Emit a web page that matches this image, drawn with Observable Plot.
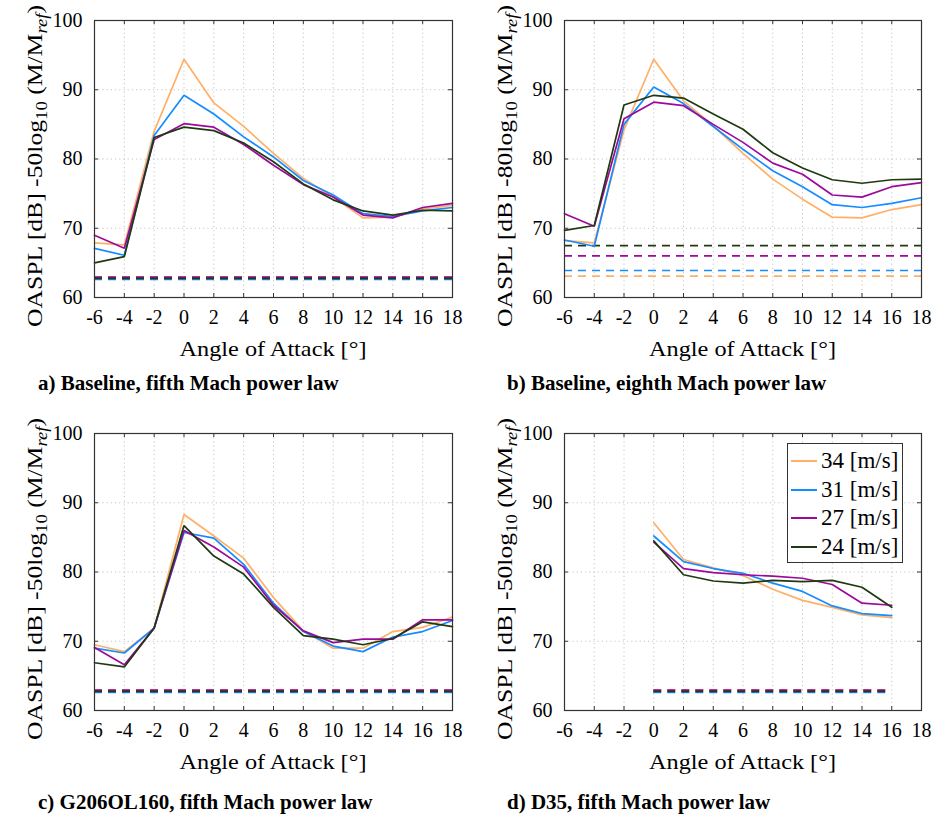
<!DOCTYPE html>
<html>
<head>
<meta charset="utf-8">
<script src="https://cdn.jsdelivr.net/npm/d3@7"></script>
<script src="https://cdn.jsdelivr.net/npm/@observablehq/plot@0.6"></script>
<style>
  html, body { margin: 0; padding: 0; background: #fff; }
  #root { position: relative; width: 934px; height: 815px; overflow: hidden; background: #fff; font-family: "Liberation Serif", "Times New Roman", serif; }
  .panel { position: absolute; }
  .caption { position: absolute; font-family: "Liberation Serif", serif; font-weight: bold; font-size: 21px; line-height: 22px; color: #000; white-space: nowrap; }
  .legend { position: absolute; left: 787px; top: 443px; width: 116px; height: 120px; border: 1px solid #333; background: #fff; box-sizing: border-box; font-family: "Liberation Serif", serif; font-size: 23px; color: #000; }
  .legend .row { position: absolute; left: 3px; height: 28px; display: flex; align-items: center; white-space: nowrap; }
  .legend .sw { width: 26px; height: 0; border-top: 2px solid; margin-right: 4px; }
</style>
</head>
<body>
<div id="root"></div>
<script>
// ---------- data ----------
const speeds = ["34 [m/s]", "31 [m/s]", "27 [m/s]", "24 [m/s]"];
const colors = ["#ffb066", "#158cff", "#9c0a9c", "#1f3a12"];
const xTicks = [-6, -4, -2, 0, 2, 4, 6, 8, 10, 12, 14, 16, 18];
const yTicks = [60, 70, 80, 90, 100];
const aoaFull = [-6, -4, -2, 0, 2, 4, 6, 8, 10, 12, 14, 16, 18];
const aoaD35 = [0, 2, 4, 6, 8, 10, 12, 14, 16];

// a) Baseline, fifth Mach power law
const a34 = [67.9, 67.6, 84.0, 94.4, 88.1, 84.7, 80.8, 77.2, 74.5, 71.5, 71.6, 72.8, 73.3];
const a31 = [67.1, 66.1, 83.4, 89.2, 86.5, 83.2, 80.3, 76.9, 74.8, 72.1, 71.7, 72.5, 73.0];
const a27 = [69.0, 67.1, 82.8, 85.1, 84.6, 82.1, 79.1, 76.3, 74.5, 71.9, 71.5, 73.0, 73.6];
const a24 = [65.0, 65.9, 83.1, 84.6, 84.1, 82.3, 79.6, 76.4, 74.1, 72.5, 71.9, 72.6, 72.5];
const aNoise = [63.0, 62.6, 62.95, 62.75];

// b) Baseline, eighth Mach power law
const b34 = [68.2, 67.9, 84.2, 94.4, 88.4, 84.8, 80.8, 77.1, 74.2, 71.6, 71.5, 72.7, 73.4];
const b31 = [68.3, 67.4, 85.0, 90.4, 88.0, 84.7, 81.4, 78.3, 76.0, 73.4, 73.0, 73.6, 74.4];
const b27 = [72.1, 70.3, 85.8, 88.2, 87.7, 85.0, 82.4, 79.4, 77.8, 74.8, 74.5, 76.0, 76.6];
const b24 = [69.7, 70.4, 87.8, 89.2, 88.8, 86.5, 84.3, 80.9, 78.7, 77.0, 76.5, 77.0, 77.1];
const bNoise = [63.1, 63.9, 66.0, 67.5];

// c) G206OL160, fifth Mach power law
const c34 = [69.5, 68.5, 71.9, 88.3, 85.2, 82.0, 76.3, 71.5, 69.0, 69.0, 71.4, 72.0, 73.5];
const c31 = [69.0, 68.3, 71.9, 85.7, 84.9, 81.1, 75.5, 71.4, 69.3, 68.5, 70.6, 71.4, 73.0];
const c27 = [69.1, 66.6, 71.9, 86.0, 83.6, 80.7, 75.2, 71.5, 69.8, 70.3, 70.3, 73.1, 73.1];
const c24 = [66.9, 66.3, 71.9, 86.7, 82.3, 79.7, 74.9, 70.8, 70.3, 69.5, 70.4, 72.8, 72.1];
const cNoise = [63.0, 62.6, 62.95, 62.75];

// d) D35, fifth Mach power law
const d34 = [87.1, 81.8, 80.6, 79.5, 77.5, 75.9, 74.9, 73.8, 73.4];
const d31 = [85.2, 81.5, 80.5, 79.8, 78.4, 77.2, 75.1, 74.0, 73.7];
const d27 = [84.3, 80.5, 79.9, 79.6, 79.4, 79.1, 78.2, 75.5, 75.2];
const d24 = [84.5, 79.6, 78.7, 78.4, 78.8, 78.6, 78.8, 77.8, 74.9];
const dNoise = [63.0, 62.6, 62.95, 62.75];

const captions = [
  "a) Baseline, fifth Mach power law",
  "b) Baseline, eighth Mach power law",
  "c) G206OL160, fifth Mach power law",
  "d) D35, fifth Mach power law"
];
const powerLaw = ["50", "80", "50", "50"];

// ---------- build ----------
const panels = [
  {aoa: aoaFull, series: [a34, a31, a27, a24], noise: aNoise, left: 0, top: 0, width: 467, mr: 15},
  {aoa: aoaFull, series: [b34, b31, b27, b24], noise: bNoise, left: 470, top: 0, width: 464, mr: 13},
  {aoa: aoaFull, series: [c34, c31, c27, c24], noise: cNoise, left: 0, top: 413, width: 467, mr: 15},
  {aoa: aoaD35, series: [d34, d31, d27, d24], noise: dNoise, left: 470, top: 413, width: 464, mr: 13}
];

const root = document.getElementById("root");
const H = 413, ML = 94, MT = 20, MB = 116;
const plotH = H - MT - MB;

panels.forEach((p, i) => {
  const rows = [];
  p.series.forEach((vals, k) => vals.forEach((v, j) => rows.push({speed: speeds[k], aoa: p.aoa[j], value: v})));
  const noiseRows = p.noise.map((v, k) => ({speed: speeds[k], value: v, x1: p.aoa[0], x2: p.aoa[p.aoa.length - 1]}));
  const plotW = p.width - ML - p.mr;

  const svg = Plot.plot({
    width: p.width, height: H,
    marginLeft: ML, marginRight: p.mr, marginTop: MT, marginBottom: MB,
    style: {fontFamily: "'Liberation Serif', serif", fontSize: "20px", color: "#000", background: "#fff"},
    x: {domain: [-6, 18], ticks: xTicks, tickFormat: d => String(d), tickSize: 0, tickPadding: 12, label: null},
    y: {domain: [60, 100], ticks: yTicks, tickFormat: d => String(d), tickSize: 0, tickPadding: 12, label: null},
    color: {domain: speeds, range: colors},
    marks: [
      Plot.ruleX(xTicks, {x: d => d, stroke: "#c4c4c4", strokeDasharray: "1.2,3"}),
      Plot.ruleY(yTicks, {y: d => d, stroke: "#c4c4c4", strokeDasharray: "1.2,3"}),
      Plot.ruleY(noiseRows, {y: "value", x1: "x1", x2: "x2", stroke: "speed", strokeWidth: 1.7, strokeDasharray: "8,6"}),
      Plot.line(rows, {x: "aoa", y: "value", z: "speed", stroke: "speed", strokeWidth: 1.7, strokeLinejoin: "miter"}),
      Plot.ruleX(xTicks, {x: d => d, insetTop: plotH - 4, stroke: "#333"}),
      Plot.ruleX(xTicks, {x: d => d, insetBottom: plotH - 4, stroke: "#333"}),
      Plot.ruleY(yTicks, {y: d => d, insetRight: plotW - 4, stroke: "#333"}),
      Plot.ruleY(yTicks, {y: d => d, insetLeft: plotW - 4, stroke: "#333"}),
      Plot.frame({stroke: "#333", strokeWidth: 1.2})
    ]
  });

  const s = d3.select(svg);
  // x label
  s.append("text")
    .attr("x", ML + plotW / 2).attr("y", 356)
    .attr("text-anchor", "middle").attr("font-size", 22)
    .attr("fill", "#000")
    .attr("textLength", 187).attr("lengthAdjust", "spacingAndGlyphs")
    .text("Angle of Attack [°]");
  // y label
  const yl = s.append("text")
    .attr("transform", `translate(${ML - 52},166) rotate(-90)`)
    .attr("text-anchor", "middle").attr("font-size", 22).attr("fill", "#000")
    .attr("textLength", 322).attr("lengthAdjust", "spacingAndGlyphs");
  yl.append("tspan").text(`OASPL [dB] -${powerLaw[i]}log`);
  yl.append("tspan").attr("dy", 5).attr("font-size", 16).text("10");
  yl.append("tspan").attr("dy", -5).text(" (M/M");
  yl.append("tspan").attr("dy", 5).attr("font-size", 16).attr("font-style", "italic").text("ref");
  yl.append("tspan").attr("dy", -5).text(")");

  const wrap = document.createElement("div");
  wrap.className = "panel";
  wrap.style.left = p.left + "px";
  wrap.style.top = p.top + "px";
  wrap.appendChild(svg);
  root.appendChild(wrap);

  const cap = document.createElement("div");
  cap.className = "caption";
  cap.style.left = (p.left === 0 ? 38 : 507) + "px";
  cap.style.top = (p.top === 0 ? 372 : 791) + "px";
  cap.textContent = captions[i];
  root.appendChild(cap);
});

// legend (panel d)
const leg = document.createElement("div");
leg.className = "legend";
speeds.forEach((sp, k) => {
  const row = document.createElement("div");
  row.className = "row";
  row.style.top = (3 + k * 28.7) + "px";
  const sw = document.createElement("div");
  sw.className = "sw";
  sw.style.borderTopColor = colors[k];
  const t = document.createElement("span");
  t.textContent = sp;
  row.appendChild(sw);
  row.appendChild(t);
  leg.appendChild(row);
});
root.appendChild(leg);
</script>
</body>
</html>
